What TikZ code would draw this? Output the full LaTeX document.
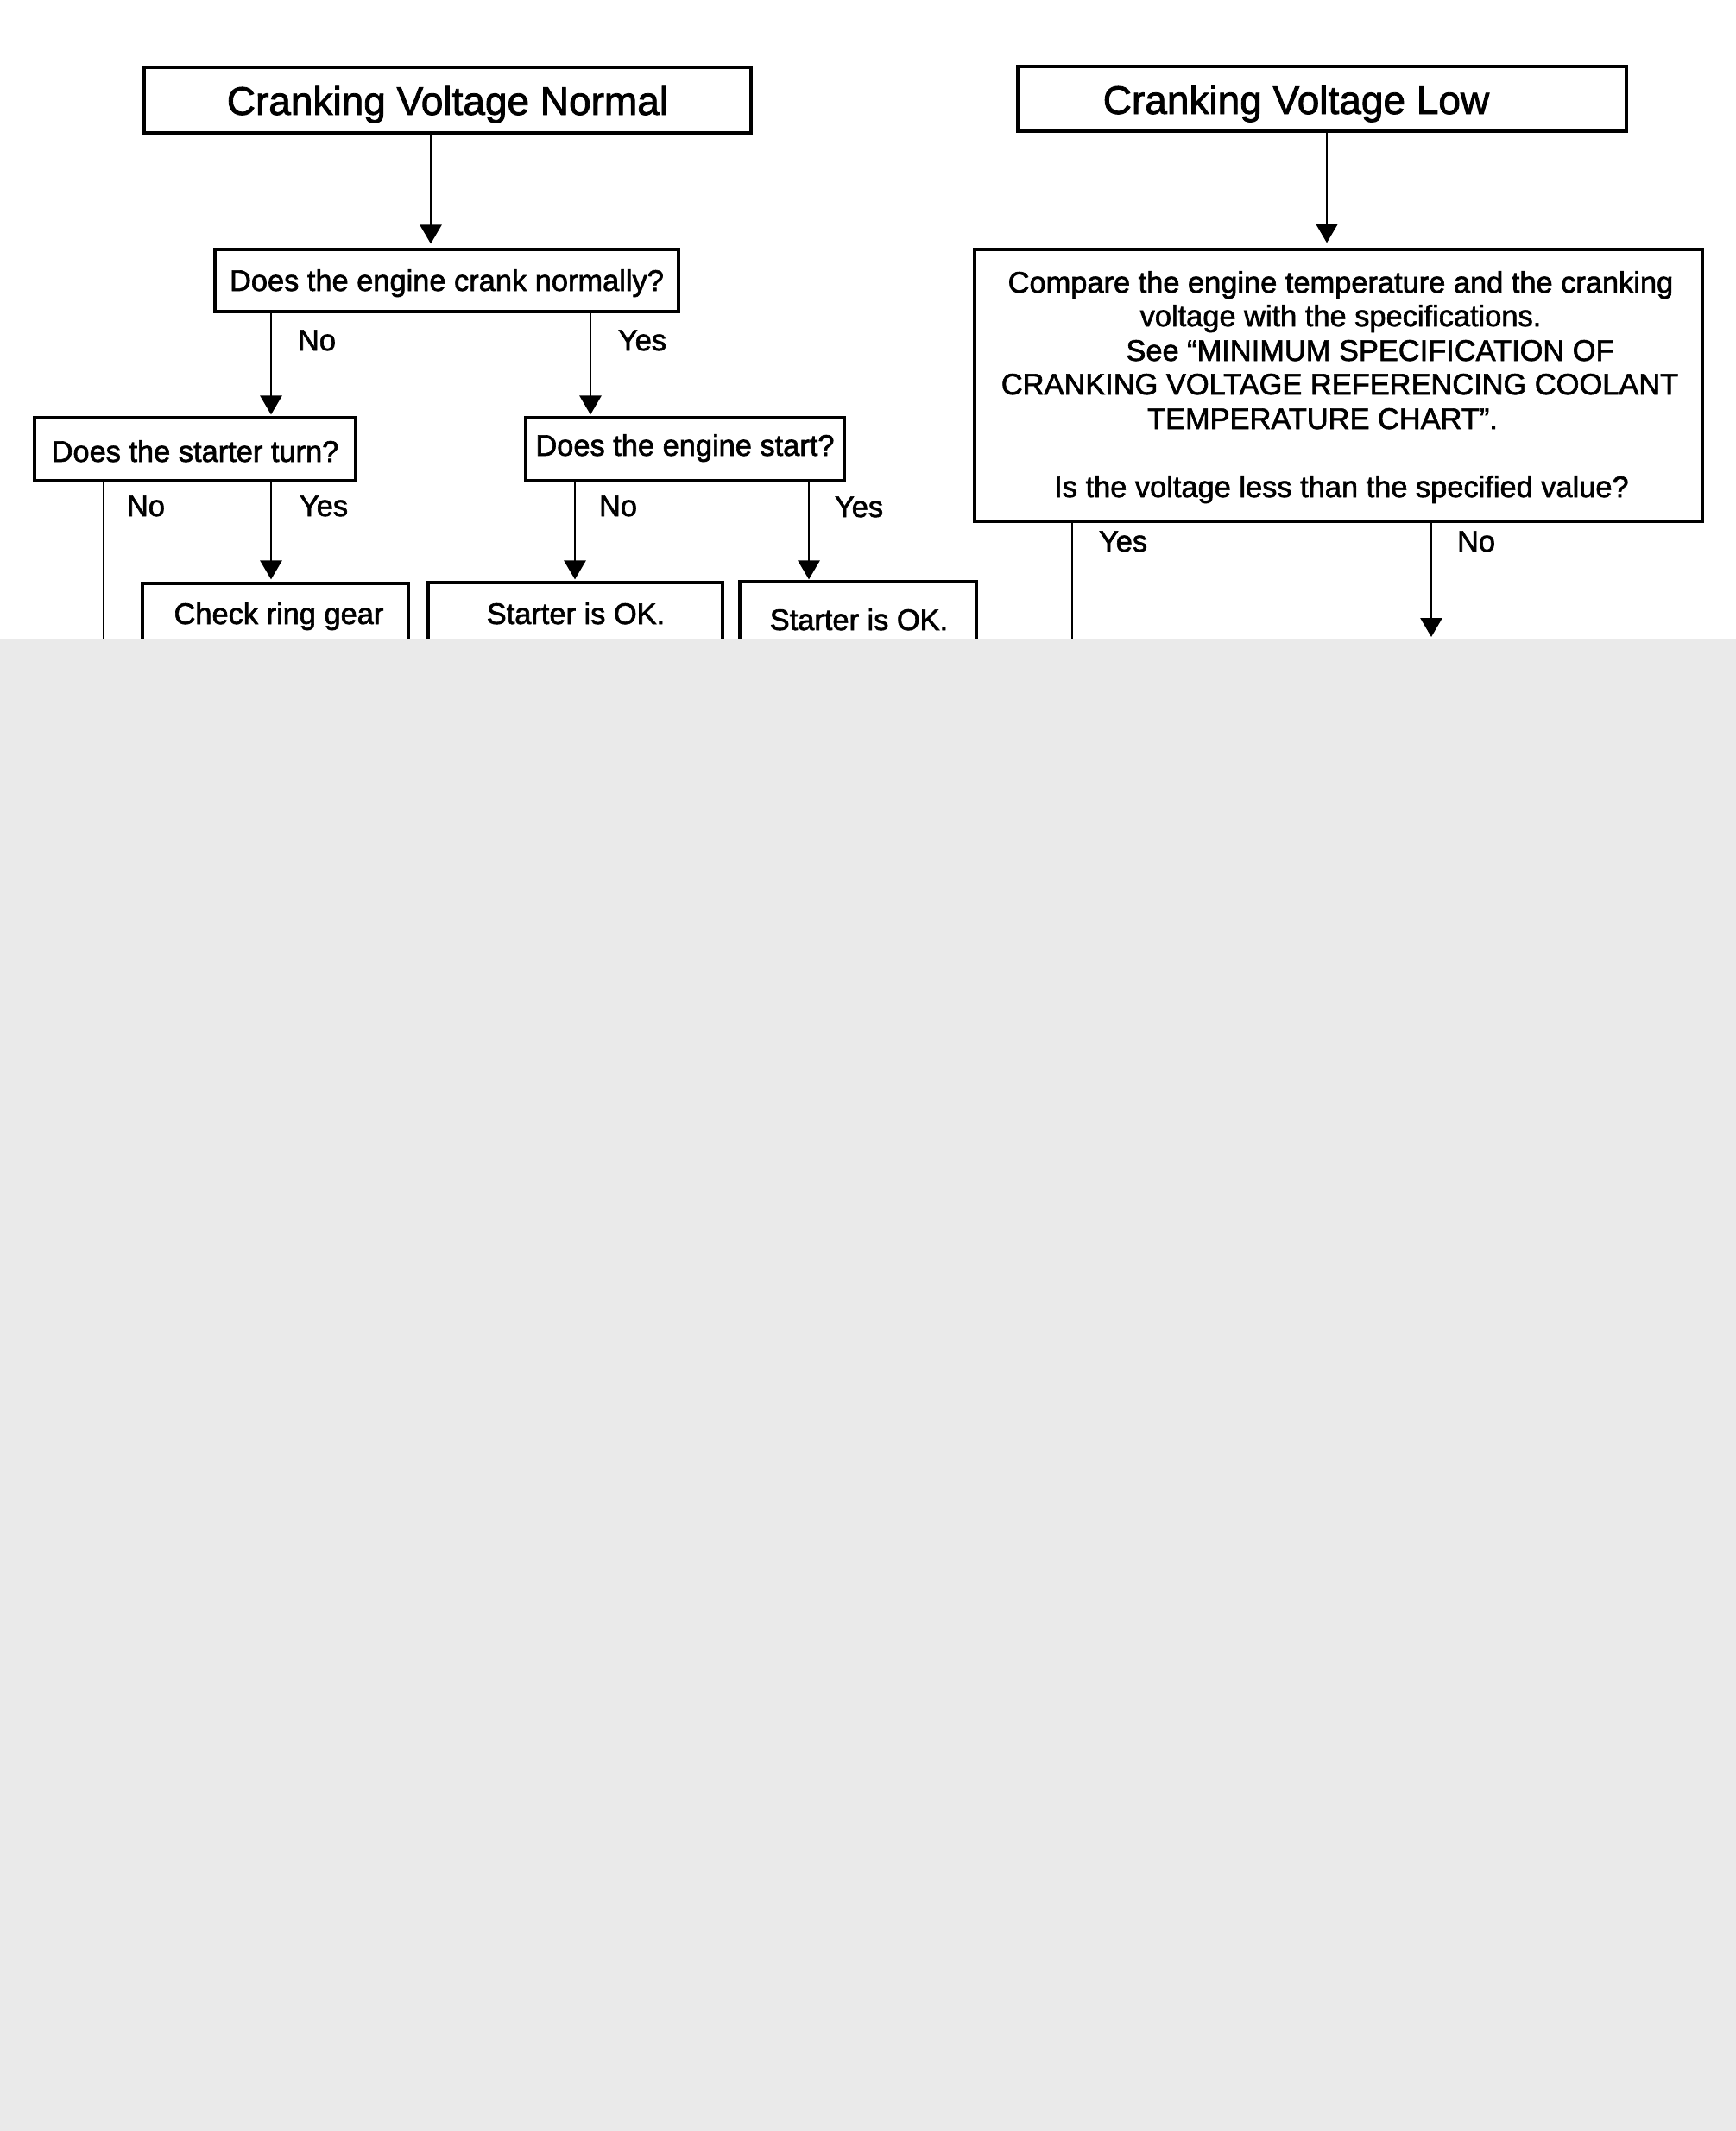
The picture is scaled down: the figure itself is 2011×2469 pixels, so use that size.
\documentclass[tikz,border=0pt]{standalone}
\usepackage{fontspec}
\setmainfont{Liberation Sans}
\newfontfamily\hvy{Liberation Sans}[FakeBold=1.8]
\usetikzlibrary{arrows.meta}
\definecolor{wm}{RGB}{234,234,234}
\begin{document}
\begin{tikzpicture}[x=1pt,y=-1pt,
  box/.style={draw=black, line width=3.2pt, inner sep=0pt, font=\hvy\fontsize{34.4}{40}\selectfont, text depth=0pt},
  ttl/.style={box, font=\hvy\fontsize{46}{54}\selectfont},
  arr/.style={line width=2.8pt, -{Triangle[width=25pt,length=22pt]}},
  ln/.style={line width=2.8pt},
  lbl/.style={inner sep=0pt, anchor=base, font=\hvy\fontsize{34.4}{40}\selectfont},
  cut/.style={draw=black, line width=3.2pt, inner sep=0pt}
]
\useasboundingbox (0,0) rectangle (2011,2469);
\fill[white] (0,0) rectangle (2011,2469);

% boxes
\node[ttl, minimum width=703pt, minimum height=76pt, text height=34pt] (T1) at (518.5,116) {Cranking Voltage Normal};
\node[ttl, minimum width=705pt, minimum height=75pt, text height=35pt] (T2) at (1531.5,114.5) {Cranking Voltage Low\hspace*{60pt}};
\node[box, minimum width=537pt, minimum height=72pt, text height=24pt] (Q1) at (517.5,325) {Does the engine crank normally?};
\node[box, minimum width=372pt, minimum height=73pt, text height=29pt] (Q2) at (226,520.5) {Does the starter turn?};
\node[box, minimum width=369pt, minimum height=73pt, text height=15pt] (Q3) at (793.5,520.5) {Does the engine start?};
\node[cut, minimum width=843pt, minimum height=315pt] (B) at (1550.5,446.5) {};
\node[cut, minimum width=308pt, minimum height=174pt] (R) at (319,763) {};
\node[cut, minimum width=341pt, minimum height=175pt] (K1) at (666.5,762.5) {};
\node[cut, minimum width=274pt, minimum height=176pt] (K2) at (994,762) {};

% texts of boxes
\node[lbl] (Rt) at (323,723) {Check ring gear};
\node[lbl] (K1t) at (667,723) {Starter is OK.};
\node[lbl] (K2t) at (995,730) {Starter is OK.};
\node[lbl] (b1) at (1553,339) {Compare the engine temperature and the cranking};
\node[lbl] (b2) at (1553,378) {voltage with the specifications.};
\node[lbl] (b3) at (1587,418) {See “MINIMUM SPECIFICATION OF};
\node[lbl] (b4) at (1552,457) {CRANKING VOLTAGE REFERENCING COOLANT};
\node[lbl] (b5) at (1532,497) {TEMPERATURE CHART”.};
\node[lbl] (b6) at (1554,576) {Is the voltage less than the specified value?};

% x positions
\coordinate (xa) at (499,0);
\coordinate (xb) at (314,0);
\coordinate (xc) at (684,0);
\coordinate (xd) at (120,0);
\coordinate (xe) at (666,0);
\coordinate (xf) at (937,0);
\coordinate (xg) at (1537,0);
\coordinate (xh) at (1242,0);
\coordinate (xi) at (1658,0);
\coordinate (endQ2) at (120,820);
\coordinate (endBy) at (1242,820);
\coordinate (endBn) at (1658,738);

% connectors
\draw[arr, shorten >=5pt] (T1.south -| xa) -- (Q1.north -| xa);
\draw[arr, shorten >=2pt] (Q1.south -| xb) -- (Q2.north -| xb);
\draw[arr, shorten >=2pt] (Q1.south -| xc) -- (Q3.north -| xc);
\draw[ln] (Q2.south -| xd) -- (endQ2);
\draw[arr, shorten >=3pt] (Q2.south -| xb) -- (R.north -| xb);
\draw[arr, shorten >=2pt] (Q3.south -| xe) -- (K1.north -| xe);
\draw[arr, shorten >=1pt] (Q3.south -| xf) -- (K2.north -| xf);
\draw[arr, shorten >=6pt] (T2.south -| xg) -- (B.north -| xg);
\draw[ln] (B.south -| xh) -- (endBy);
\draw[arr] (B.south -| xi) -- (endBn);

% branch labels
\node[lbl] (n1) at (367,406) {No};
\node[lbl] (y1) at (744,406) {Yes};
\node[lbl] (n2) at (169,598) {No};
\node[lbl] (y2) at (375,598) {Yes};
\node[lbl] (n3) at (716,598) {No};
\node[lbl] (y3) at (995,599) {Yes};
\node[lbl] (y4) at (1301,639) {Yes};
\node[lbl] (n4) at (1710,639) {No};

% grey overlay covering the rest of the page
\fill[wm] (0,740) rectangle (2011,2469);
\end{tikzpicture}
\end{document}
